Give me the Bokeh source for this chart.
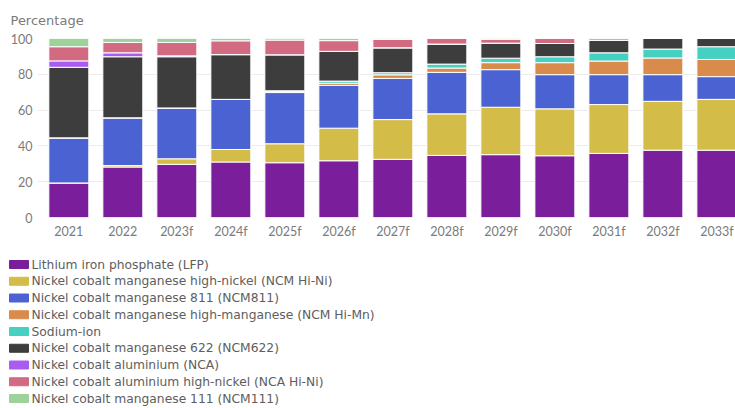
import numpy as np
from bokeh.plotting import figure
from bokeh.layouts import column
from bokeh.models import ColumnDataSource, Range1d, FixedTicker
from bokeh.core.properties import value
from bokeh.embed import file_html
from bokeh.resources import INLINE

years = ["2021", "2022", "2023f", "2024f", "2025f", "2026f", "2027f",
         "2028f", "2029f", "2030f", "2031f", "2032f", "2033f"]

series_names = [
    "Lithium iron phosphate (LFP)",
    "Nickel cobalt manganese high-nickel (NCM Hi-Ni)",
    "Nickel cobalt manganese 811 (NCM811)",
    "Nickel cobalt manganese high-manganese (NCM Hi-Mn)",
    "Sodium-ion",
    "Nickel cobalt manganese 622 (NCM622)",
    "Nickel cobalt aluminium (NCA)",
    "Nickel cobalt aluminium high-nickel (NCA Hi-Ni)",
    "Nickel cobalt manganese 111 (NCM111)",
]

lfp     = [19.3, 28.2, 29.7, 31.0, 30.6, 31.7, 32.5, 34.7, 35.1, 34.5, 35.8, 37.6, 37.6]
ncm_hni = [0.0, 0.8, 3.1, 7.0, 10.6, 18.2, 22.2, 23.2, 26.5, 26.2, 27.3, 27.3, 28.4]
ncm811  = [25.2, 26.7, 28.4, 28.0, 28.6, 23.9, 23.0, 23.2, 21.0, 19.1, 16.7, 14.9, 12.7]
ncm_hmn = [0.0, 0.0, 0.0, 0.0, 0.5, 1.2, 2.0, 2.4, 3.9, 6.7, 7.6, 9.3, 9.6]
sodium  = [0.0, 0.0, 0.0, 0.0, 0.5, 1.2, 1.2, 2.2, 2.5, 3.3, 4.6, 5.0, 7.1]
ncm622  = [39.4, 34.1, 28.6, 25.0, 20.1, 16.6, 13.9, 11.2, 8.4, 7.4, 7.1, 5.9, 4.6]
nca     = [3.6, 2.2, 0.5, 0.0, 0.0, 0.0, 0.0, 0.0, 0.0, 0.0, 0.0, 0.0, 0.0]
nca_hni = [7.9, 5.8, 7.5, 7.7, 8.2, 6.0, 4.7, 3.1, 2.2, 2.8, 0.9, 0.0, 0.0]
ncm111  = [4.6, 2.2, 2.2, 1.3, 0.9, 1.2, 0.5, 0.0, 0.4, 0.0, 0.0, 0.0, 0.0]

colors = ["#7B1E9B", "#D4BC48", "#4A62D2", "#D98B4B", "#45D0C1",
          "#3D3D3D", "#A85CF2", "#D26A82", "#9DD29A"]

y_ticks = [0, 20, 40, 60, 80, 100]

keys = ["lfp", "ncm_hni", "ncm811", "ncm_hmn", "sodium", "ncm622", "nca", "nca_hni", "ncm111"]
data = dict(x=list(np.arange(len(years))), lfp=lfp, ncm_hni=ncm_hni, ncm811=ncm811,
            ncm_hmn=ncm_hmn, sodium=sodium, ncm622=ncm622, nca=nca,
            nca_hni=nca_hni, ncm111=ncm111)
source = ColumnDataSource(data)

FONT = "Lato"
LFONT = "DejaVu Sans"
GRAY = "#7a7a7a"

W = 735
H1 = 243
LG_H = 165

p = figure(width=W, height=H1, output_backend="svg", toolbar_location=None,
           x_range=Range1d(-0.58, 12.345), y_range=Range1d(0, 100),
           min_border_left=37, min_border_right=0, min_border_top=37, min_border_bottom=26,
           title="Percentage")
p.outline_line_color = None
p.title.align = "left"
p.title.offset = -27
p.title.standoff = 21
p.title.text_font = LFONT
p.title.text_font_size = "13px"
p.title.text_font_style = "normal"
p.title.text_color = GRAY

p.vbar_stack(keys, x="x", width=0.74, source=source, color=colors,
             line_color="white", line_width=1)

p.xaxis.ticker = FixedTicker(ticks=list(range(len(years))))
p.xaxis.major_label_overrides = {i: y for i, y in enumerate(years)}
p.yaxis.ticker = FixedTicker(ticks=y_ticks)
for ax in (p.xaxis, p.yaxis):
    ax.axis_line_color = None
    ax.major_tick_line_color = None
    ax.minor_tick_line_color = None
    ax.major_tick_out = 0
    ax.major_tick_in = 0
    ax.major_label_text_color = GRAY
    ax.major_label_text_font = FONT
    ax.major_label_text_font_size = "12.5px"
p.xaxis.major_label_standoff = 6
p.yaxis.major_label_standoff = 5
p.xgrid.grid_line_color = None
p.ygrid.grid_line_color = "#ececec"
p.ygrid.grid_line_width = 1

# legend panel (drawn from the series names and colours)
lg = figure(width=W, height=LG_H, output_backend="svg", toolbar_location=None,
            x_range=Range1d(0, W), y_range=Range1d(LG_H, 0),
            x_axis_location=None, y_axis_location=None,
            min_border_left=0, min_border_right=0, min_border_top=0, min_border_bottom=0)
lg.grid.visible = False
lg.outline_line_color = None
row_y = 21 + 16.75 * np.arange(len(series_names))
leg_src = ColumnDataSource(dict(y=list(row_y), name=series_names, color=colors))
lg.rect(x=18.5, y="y", width=19, height=8, fill_color="color", line_color="color",
        line_width=1, source=leg_src)
lg.text(x=31, y="y", text="name", source=leg_src, text_font=value(LFONT),
        text_font_size="12.3px", text_color="#5e5e5e", text_baseline="middle",
        text_align="left")

for fig in (p, lg):
    if "frame_align" in fig.properties():
        fig.frame_align = False

layout = column(p, lg, spacing=0)
open("out.html", "w").write(file_html(layout, INLINE))
